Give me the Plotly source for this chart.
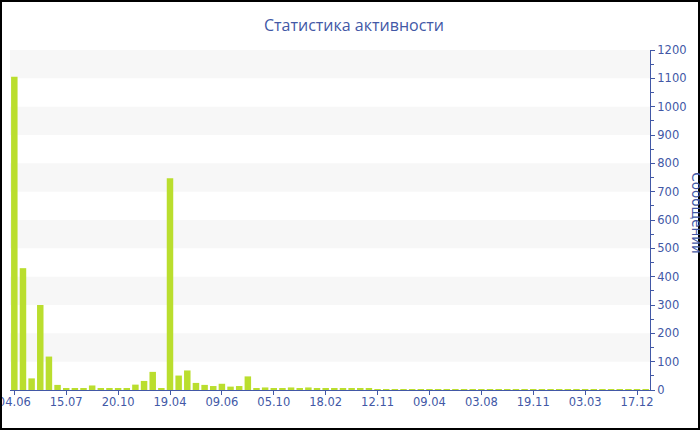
import plotly.graph_objects as go

# --- data ---
values = [1106, 430, 41, 300, 118, 18, 7, 5, 7, 16, 7, 7, 5, 7, 19, 32, 64, 7,
          747, 51, 69, 25, 18, 14, 22, 12, 14, 48, 6, 9, 6, 6, 9, 4, 9, 6, 6,
          4, 4, 4, 4, 4] + [3] * 32
tick_labels = ["04.06", "15.07", "20.10", "19.04", "09.06", "05.10", "18.02",
               "12.11", "09.04", "03.08", "19.11", "03.03", "17.12"]
title_text = "Статистика активности"
y_title = "Сообщений"

n = len(values)
x = list(range(n))
tick_step = 6
tickvals = list(range(0, n, tick_step))[:len(tick_labels)]

W, H = 700, 430
ML, MR, MT, MB = 10, 50, 50, 40
pw, ph = W - ML - MR, H - MT - MB

axis_color = "#4258a6"
bar_color = "#bade2e"
font = "DejaVu Sans, Verdana, sans-serif"
title_font = "Open Sans, Noto Sans, sans-serif"

fig = go.Figure(go.Bar(x=x, y=values, marker=dict(color=bar_color, line=dict(width=0)),
                       hoverinfo="x+y"))

shapes = []
# alternating bands
for k in range(1, 12, 2):
    shapes.append(dict(type="rect", xref="paper", yref="y", x0=0, x1=1,
                       y0=k * 100, y1=(k + 1) * 100, fillcolor="#f7f7f7",
                       line=dict(width=0), layer="below"))
# outer border
shapes.append(dict(type="rect", xref="paper", yref="paper",
                   x0=(-ML + 1) / pw, x1=(W - ML - 1) / pw,
                   y0=(-MB + 1) / ph, y1=(H - MB - 1) / ph,
                   line=dict(color="black", width=2), fillcolor="rgba(0,0,0,0)",
                   layer="above"))

fig.update_layout(
    width=W, height=H,
    margin=dict(l=ML, r=MR, t=MT, b=MB, autoexpand=False),
    paper_bgcolor="white", plot_bgcolor="white",
    bargap=0.25,
    showlegend=False,
    font=dict(family=font, color=axis_color, size=11.5),
    title=dict(text=title_text, x=354 / W, xanchor="center", y=1 - 25 / H, yanchor="middle",
               xref="container", yref="container",
               font=dict(family=title_font, size=16, color=axis_color)),
    xaxis=dict(range=[-0.5, n - 0.5], tickmode="array", tickvals=tickvals,
               ticktext=tick_labels, showline=True, linecolor=axis_color, linewidth=1,
               ticks="outside", ticklen=4, tickcolor=axis_color, showgrid=False,
               zeroline=False, automargin=False, ticklabeloverflow="allow",
               ticklabelstandoff=-3,
               tickfont=dict(size=11.5, color=axis_color)),
    yaxis=dict(side="right", range=[0, 1200], dtick=100, showline=True,
               linecolor=axis_color, linewidth=1, ticks="outside", ticklen=4,
               tickcolor=axis_color, showgrid=False, zeroline=False, automargin=False,
               ticklabeloverflow="allow",
               tickfont=dict(size=11.5, color=axis_color),
               minor=dict(dtick=50, ticks="outside", ticklen=3, tickcolor=axis_color)),
    shapes=shapes,
    annotations=[dict(text=y_title, textangle=90, xref="paper", yref="paper",
                      x=(697 - ML) / pw, y=0.52, xanchor="center", yanchor="middle",
                      showarrow=False, font=dict(family=font, size=13.5, color=axis_color))],
)

fig.write_html("out.html", config={"displayModeBar": False},
               post_script="document.body.style.margin='0';document.body.style.overflow='hidden';")
